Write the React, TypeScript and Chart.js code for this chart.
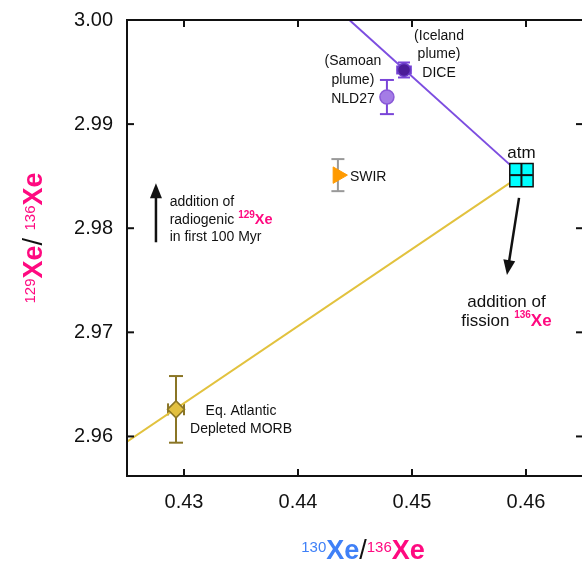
import React, { useEffect, useRef } from 'react';
import { Chart, registerables } from 'chart.js';

Chart.register(...registerables);

const FONT = '"Liberation Sans", Arial, Helvetica, sans-serif';
const PINK = '#ff0a80';
const BLUE = '#3f80f7';
const INK = '#111111';

// ---- data ----
const sampleNames = ['DICE', 'NLD27', 'SWIR', 'Eq. Atlantic Depleted MORB', 'atm'];
const xValues = [0.4493, 0.4478, 0.4435, 0.4293, 0.4596];
const yValues = [2.9952, 2.9926, 2.9851, 2.9626, 2.9851];
const yErrors = [0.00072, 0.00164, 0.00154, 0.0032, 0.00112];
const xErrors = [0.0006, 0, 0, 0.0007, 0.001];

const plumeLineX = [0.4596, 0.444];
const plumeLineY = [2.9851, 3.0005];
const morbLineX = [0.4596, 0.425];
const morbLineY = [2.9851, 2.9595];

const arrowFromX = [0.42754, 0.45939];
const arrowFromY = [2.97865, 2.98292];
const arrowToX = [0.42754, 0.45833];
const arrowToY = [2.98433, 2.9755];

const xTickValues = [0.43, 0.44, 0.45, 0.46];
const yTickValues = [2.96, 2.97, 2.98, 2.99, 3.0];
const X_MIN = 0.425;
const X_MAX = 0.465;
const Y_MIN = 2.9562;
const Y_MAX = 3.0;

// ---- styles ----
const markerStyles = ['circle', 'circle', 'triangle', 'rectRot', 'rect'];
const markerRadius = [6.5, 7, 9.5, 8.5, 16.5];
const markerRotation = [0, 0, 90, 0, 0];
const markerFill = ['#4b1c98', '#a47ce6', '#ff9a00', '#e2c040', '#00ffff'];
const markerBorder = ['#6b3cc8', '#8a5ad8', '#ff9a00', '#8a7525', '#111111'];
const markerBorderWidth = [1.5, 1.5, 1, 1.5, 1.5];
const errColors = ['#7a45d8', '#7a45d8', '#999999', '#8a7525', '#111111'];
const errCaps = [6, 7, 6.5, 7, 0];
const xErrCaps = [4.5, 0, 0, 6, 0];

type Run = { t: string; size: number; bold?: boolean; color?: string; rise?: number };
const txt = (t: string, size = 14): Run => ({ t, size, color: INK });
const sup = (t: string, size: number, rise: number, color = PINK, bold = true): Run => ({ t, size, bold, color, rise });
const xe = (size: number, color = PINK): Run => ({ t: 'Xe', size, bold: true, color });

type Label = { dx: number; dy: number; lh: number; align: 'left' | 'center'; lines: Run[][] };

const pointLabels: (Label & { anchor: number })[] = [
  { anchor: 0, dx: 35, dy: -30.2, lh: 18.5, align: 'center', lines: [[txt('(Iceland')], [txt('plume)')], [txt('DICE')]] },
  { anchor: 1, dx: -34, dy: -32.4, lh: 19, align: 'center', lines: [[txt('(Samoan')], [txt('plume)')], [txt('NLD27')]] },
  { anchor: 2, dx: 12, dy: 6, lh: 0, align: 'left', lines: [[txt('SWIR')]] },
  { anchor: 4, dx: 0, dy: -17.5, lh: 0, align: 'center', lines: [[txt('atm', 17)]] },
  { anchor: 3, dx: 65, dy: 5.7, lh: 18.3, align: 'center', lines: [[txt('Eq. Atlantic')], [txt('Depleted MORB')]] },
];

// arrow labels: [0] anchored at arrow start, [1] anchored at arrow tip
const arrowLabels: (Label & { arrow: number; atTip: boolean })[] = [
  {
    arrow: 0, atTip: false, dx: 13.7, dy: -36, lh: 17.5, align: 'left',
    lines: [[txt('addition of')], [txt('radiogenic '), sup('129', 10, 5.7), xe(14.5)], [txt('in first 100 Myr')]],
  },
  {
    arrow: 1, atTip: true, dx: -0.5, dy: 31.7, lh: 19, align: 'center',
    lines: [[txt('addition of', 17)], [txt('fission ', 17), sup('136', 10, 7.4), xe(17)]],
  },
];

const xTitle: Run[] = [sup('130', 15, 7, BLUE, false), xe(27, BLUE), { t: '/', size: 27, color: INK }, sup('136', 15, 7, PINK, false), xe(27)];
const yTitle: Run[] = [sup('129', 15, 7, PINK, false), xe(27), { t: '/ ', size: 27, color: INK }, sup('136', 15, 7, PINK, false), xe(27)];

function fontOf(r: Run) {
  return `${r.bold ? 'bold ' : ''}${r.size}px ${FONT}`;
}

function drawRuns(ctx: CanvasRenderingContext2D, runs: Run[], x: number, y: number, align: 'left' | 'center') {
  let total = 0;
  const widths = runs.map((r) => {
    ctx.font = fontOf(r);
    const w = ctx.measureText(r.t).width;
    total += w;
    return w;
  });
  let cx = align === 'center' ? x - total / 2 : x;
  ctx.textAlign = 'left';
  ctx.textBaseline = 'alphabetic';
  runs.forEach((r, i) => {
    ctx.font = fontOf(r);
    ctx.fillStyle = r.color || INK;
    ctx.fillText(r.t, cx, y - (r.rise || 0));
    cx += widths[i];
  });
}

function drawLabel(ctx: CanvasRenderingContext2D, l: Label, ax: number, ay: number) {
  l.lines.forEach((line, i) => drawRuns(ctx, line, ax + l.dx, ay + l.dy + i * l.lh, l.align));
}

function seg(ctx: CanvasRenderingContext2D, x1: number, y1: number, x2: number, y2: number) {
  ctx.beginPath();
  ctx.moveTo(x1, y1);
  ctx.lineTo(x2, y2);
  ctx.stroke();
}

function drawErrorBar(chart: any, i: number) {
  const { ctx } = chart;
  const xs = chart.scales.x;
  const ys = chart.scales.y;
  const px = xs.getPixelForValue(xValues[i]);
  const py = ys.getPixelForValue(yValues[i]);
  ctx.strokeStyle = errColors[i];
  ctx.lineWidth = 2;
  if (yErrors[i]) {
    const t = ys.getPixelForValue(yValues[i] + yErrors[i]);
    const b = ys.getPixelForValue(yValues[i] - yErrors[i]);
    seg(ctx, px, t, px, b);
    if (errCaps[i]) {
      seg(ctx, px - errCaps[i], t, px + errCaps[i], t);
      seg(ctx, px - errCaps[i], b, px + errCaps[i], b);
    }
  }
  if (xErrors[i]) {
    const l = xs.getPixelForValue(xValues[i] - xErrors[i]);
    const r = xs.getPixelForValue(xValues[i] + xErrors[i]);
    seg(ctx, l, py, r, py);
    if (xErrCaps[i]) {
      seg(ctx, l, py - xErrCaps[i], l, py + xErrCaps[i]);
      seg(ctx, r, py - xErrCaps[i], r, py + xErrCaps[i]);
    }
  }
}

const decorPlugin = {
  id: 'decor',
  beforeDatasetsDraw(chart: any) {
    const { ctx } = chart;
    ctx.save();
    xValues.forEach((_, i) => {
      if (markerStyles[i] !== 'rect') drawErrorBar(chart, i);
    });
    ctx.restore();
  },
  afterDatasetsDraw(chart: any) {
    const { ctx, chartArea } = chart;
    const xs = chart.scales.x;
    const ys = chart.scales.y;
    ctx.save();
    // error bars drawn over square markers (atm cross)
    xValues.forEach((_, i) => {
      if (markerStyles[i] === 'rect') drawErrorBar(chart, i);
    });

    // frame
    ctx.strokeStyle = INK;
    ctx.lineWidth = 2;
    ctx.lineCap = 'square';
    ctx.strokeRect(chartArea.left, chartArea.top, chartArea.right - chartArea.left, chartArea.bottom - chartArea.top);
    ctx.lineCap = 'butt';
    const tl = 7;
    xTickValues.forEach((v) => {
      const p = xs.getPixelForValue(v);
      seg(ctx, p, chartArea.bottom, p, chartArea.bottom - tl);
      seg(ctx, p, chartArea.top, p, chartArea.top + tl);
    });
    yTickValues.forEach((v) => {
      const p = ys.getPixelForValue(v);
      seg(ctx, chartArea.left, p, chartArea.left + tl, p);
      seg(ctx, chartArea.right, p, chartArea.right - tl, p);
    });

    // arrows
    arrowFromX.forEach((_, i) => {
      const x1 = xs.getPixelForValue(arrowFromX[i]);
      const y1 = ys.getPixelForValue(arrowFromY[i]);
      const x2 = xs.getPixelForValue(arrowToX[i]);
      const y2 = ys.getPixelForValue(arrowToY[i]);
      const ang = Math.atan2(y2 - y1, x2 - x1);
      const hl = 15;
      const hw = 6;
      ctx.strokeStyle = INK;
      ctx.fillStyle = INK;
      ctx.lineWidth = 2.5;
      seg(ctx, x1, y1, x2 - Math.cos(ang) * (hl - 2), y2 - Math.sin(ang) * (hl - 2));
      ctx.beginPath();
      ctx.moveTo(x2, y2);
      ctx.lineTo(x2 - Math.cos(ang) * hl - Math.sin(ang) * hw, y2 - Math.sin(ang) * hl + Math.cos(ang) * hw);
      ctx.lineTo(x2 - Math.cos(ang) * hl + Math.sin(ang) * hw, y2 - Math.sin(ang) * hl - Math.cos(ang) * hw);
      ctx.closePath();
      ctx.fill();
    });

    // labels
    pointLabels.forEach((l) => {
      drawLabel(ctx, l, xs.getPixelForValue(xValues[l.anchor]), ys.getPixelForValue(yValues[l.anchor]));
    });
    arrowLabels.forEach((l) => {
      const ax = l.atTip ? arrowToX[l.arrow] : arrowFromX[l.arrow];
      const ay = l.atTip ? arrowToY[l.arrow] : arrowFromY[l.arrow];
      drawLabel(ctx, l, xs.getPixelForValue(ax), ys.getPixelForValue(ay));
    });

    // axis titles
    const cx = (chartArea.left + chartArea.right) / 2;
    const cy = (chartArea.top + chartArea.bottom) / 2;
    drawRuns(ctx, xTitle, cx + 8, chart.height - 5, 'center');
    ctx.translate(42, cy - 10);
    ctx.rotate(-Math.PI / 2);
    drawRuns(ctx, yTitle, 0, 0, 'center');
    ctx.restore();
  },
};

export default function App() {
  const ref = useRef<HTMLCanvasElement>(null);
  useEffect(() => {
    document.body.style.margin = '0';
    const canvas = ref.current!;
    const chart = new Chart(canvas, {
      type: 'scatter',
      data: {
        datasets: [
          {
            label: 'samples',
            data: xValues.map((x, i) => ({ x, y: yValues[i] })),
            pointStyle: markerStyles as any,
            pointRadius: markerRadius,
            pointHoverRadius: markerRadius,
            rotation: markerRotation,
            backgroundColor: markerFill,
            borderColor: markerBorder,
            borderWidth: markerBorderWidth,
            order: 1,
          } as any,
          {
            type: 'line',
            label: 'plume mixing',
            data: plumeLineX.map((x, i) => ({ x, y: plumeLineY[i] })),
            borderColor: '#7d4ee0',
            borderWidth: 2,
            pointRadius: 0,
            order: 5,
          } as any,
          {
            type: 'line',
            label: 'MORB mixing',
            data: morbLineX.map((x, i) => ({ x, y: morbLineY[i] })),
            borderColor: '#e2c23e',
            borderWidth: 2,
            pointRadius: 0,
            order: 6,
          } as any,
        ],
      },
      options: {
        responsive: false,
        animation: false,
        devicePixelRatio: 1,
        layout: { padding: { top: 20, right: canvas.width - 583, left: 0, bottom: 0 } },
        plugins: { legend: { display: false }, tooltip: { enabled: false }, title: { display: false } },
        scales: {
          x: {
            type: 'linear',
            min: X_MIN,
            max: X_MAX,
            afterBuildTicks: (s: any) => {
              s.ticks = xTickValues.map((v) => ({ value: v }));
            },
            afterFit: (s: any) => {
              s.height = 88;
              s.paddingLeft = 0;
              s.paddingRight = 0;
            },
            grid: { display: false, drawTicks: false },
            border: { display: false },
            ticks: {
              font: { family: FONT, size: 20 },
              color: INK,
              padding: 14,
              maxRotation: 0,
              autoSkip: false,
              callback: (v: any) => Number(v).toFixed(2),
            },
          },
          y: {
            type: 'linear',
            min: Y_MIN,
            max: Y_MAX,
            afterBuildTicks: (s: any) => {
              s.ticks = yTickValues.map((v) => ({ value: v }));
            },
            afterFit: (s: any) => {
              s.width = 127;
              s.paddingTop = 0;
              s.paddingBottom = 0;
            },
            grid: { display: false, drawTicks: false },
            border: { display: false },
            ticks: {
              font: { family: FONT, size: 20 },
              color: INK,
              padding: 14,
              autoSkip: false,
              callback: (v: any) => Number(v).toFixed(2),
            },
          },
        },
      },
      plugins: [decorPlugin],
    });
    return () => chart.destroy();
  }, []);
  return (
    <div style={{ width: 582, height: 564, overflow: 'hidden', position: 'relative', background: '#fff' }}>
      <canvas ref={ref} width={610} height={564} style={{ display: 'block', width: 610, height: 564 }} />
    </div>
  );
}
